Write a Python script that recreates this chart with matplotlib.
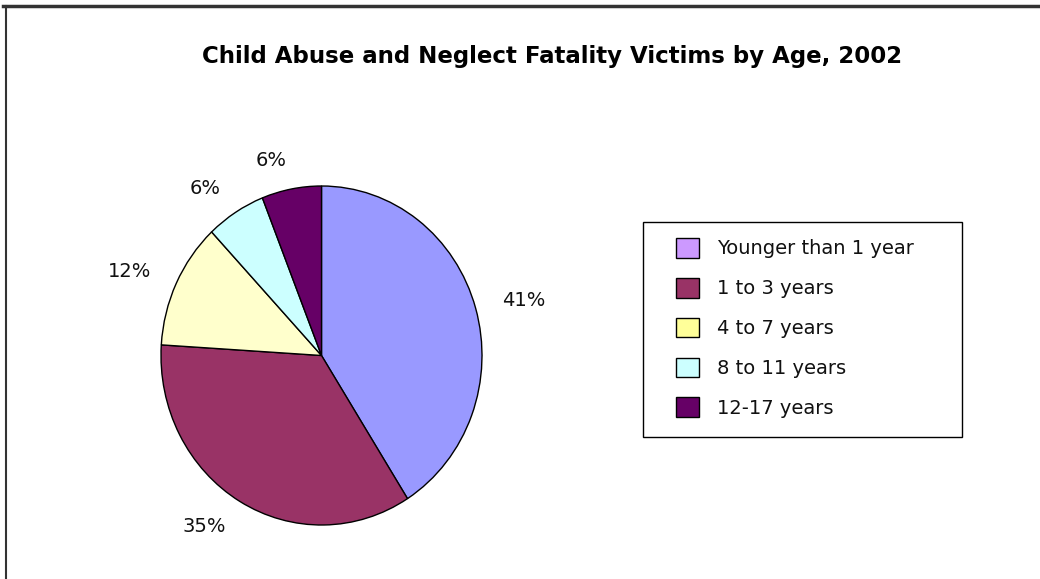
import matplotlib.pyplot as plt
from matplotlib.patches import Patch, Rectangle
from matplotlib.lines import Line2D

# data
ages = ['Younger than 1 year', '1 to 3 years', '4 to 7 years', '8 to 11 years', '12-17 years']
shares = [41, 35, 12, 6, 6]
slice_colors = ['#9999FF', '#993366', '#FFFFCC', '#CCFFFF', '#660066']
legend_colors = ['#CC99FF', '#993366', '#FFFF99', '#CCFFFF', '#660066']

W, H = 1040, 579
fig = plt.figure(figsize=(W / 100, H / 100), dpi=100)
fig.patch.set_facecolor('white')

# pie area (slightly taller than wide, like the original)
ax = fig.add_axes([161 / W, 1 - 525 / H, 321 / W, 339 / H])
ax.pie(shares, colors=slice_colors, startangle=90, counterclock=False,
       labels=['%d%%' % s for s in shares], labeldistance=1.17,
       wedgeprops=dict(edgecolor='black', linewidth=1),
       textprops=dict(fontsize=14, family='DejaVu Sans', color='#111111'))
ax.set_aspect('auto')
ax.set_xlim(-1, 1)
ax.set_ylim(-1, 1)

# legend frame drawn by hand so its size matches the original
fig.add_artist(Rectangle((643 / W, 1 - 437 / H), (962 - 643) / W, (437 - 222) / H,
                         transform=fig.transFigure, facecolor='white',
                         edgecolor='black', linewidth=1, zorder=1))

handles = [Patch(facecolor=c, edgecolor='black', linewidth=1) for c in legend_colors]
leg = fig.legend(handles, ages, loc='upper left',
                 bbox_to_anchor=(676 / W, 1 - 238 / H),
                 frameon=False, fontsize=14,
                 handlelength=1.18, handleheight=1.18, handletextpad=0.93,
                 labelspacing=1.0, borderpad=0, borderaxespad=0)
leg.set_zorder(2)
for t in leg.get_texts():
    t.set_color('#111111')

fig.text(552 / W, 1 - 57 / H, 'Child Abuse and Neglect Fatality Victims by Age, 2002',
         ha='center', va='center', fontsize=16.5, fontweight='bold', family='DejaVu Sans')

# chart frame: top and left edges only are visible
fig.add_artist(Line2D([3 / W, 1], [1 - 5.5 / H, 1 - 5.5 / H], color='#333333', lw=2.5))
fig.add_artist(Line2D([5.5 / W, 5.5 / W], [0, 1 - 5.5 / H], color='#333333', lw=1.5))

fig.savefig('out.png', dpi=100)
